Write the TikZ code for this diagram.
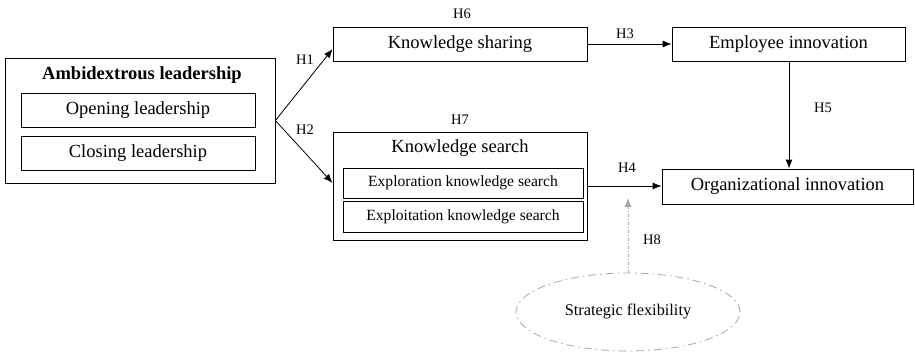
\documentclass[tikz,border=0pt]{standalone}
\usepackage{fontspec}
\setmainfont{Liberation Serif}
\usetikzlibrary{arrows.meta,shapes.geometric,calc}
\begin{document}
\begin{tikzpicture}[x=1pt,y=-1pt,
  box/.style={draw,line width=0.8pt,inner sep=0pt,font=\fontsize{18.5}{20}\selectfont},
  sbox/.style={draw,line width=0.8pt,inner sep=0pt,font=\fontsize{15.6}{17}\selectfont},
  hlab/.style={font=\fontsize{14.5}{16}\selectfont,inner sep=0pt},
  arr/.style={line width=0.8pt,-{Latex[length=9pt,width=7pt]}},
  garr/.style={line width=0.8pt,gray!70,dash pattern=on 3pt off 2pt on 1pt off 2pt,-{Latex[length=9pt,width=7pt]}}
]
\useasboundingbox (0,0) rectangle (915,354);
% Ambidextrous leadership
\node[box,minimum width=270pt,minimum height=125pt] (amb) at (140,120.5) {};
\node[font=\fontsize{18.5}{20}\selectfont\bfseries,inner sep=0pt] (ambt) at (142,75) {Ambidextrous leadership};
\node[box,minimum width=234pt,minimum height=34pt] (open) at (138,110) {Opening leadership};
\node[box,minimum width=234pt,minimum height=34pt] (close) at (138,153) {Closing leadership};
% Knowledge sharing
\node[box,minimum width=254pt,minimum height=34pt] (ks) at (460,44) {Knowledge sharing};
% Employee innovation
\node[box,minimum width=233pt,minimum height=34pt] (ei) at (788.5,44) {Employee innovation};
% Knowledge search
\node[box,minimum width=254pt,minimum height=108pt] (search) at (460,186) {};
\node[font=\fontsize{18.5}{20}\selectfont,inner sep=0pt] (searcht) at (460,148) {Knowledge search};
\node[sbox,minimum width=240pt,minimum height=30pt] (explor) at (463,183) {Exploration knowledge search};
\node[sbox,minimum width=240pt,minimum height=31pt] (exploit) at (463,216.5) {Exploitation knowledge search};
% Organizational innovation
\node[box,minimum width=251pt,minimum height=35pt] (oi) at (787.5,186.5) {Organizational innovation};
% Strategic flexibility
\node[ellipse,draw=gray!70,line width=0.8pt,dash pattern=on 8pt off 4pt on 1.5pt off 4pt,minimum width=224pt,minimum height=78pt,inner sep=0pt,font=\fontsize{16.3}{18}\selectfont] (sf) at (628,312) {Strategic flexibility};
\coordinate (modpt) at (628,198);
% connectors
\draw[arr] (amb.east) -- ([yshift=-5pt]ks.west);
\draw[arr] (amb.east) -- ([yshift=3pt]search.west);
\draw[arr] (ks.east) -- (ks.east -| ei.west);
\draw[arr] (ei.south -| 789,0) -- (789,0 |- oi.north);
\draw[arr] (search.east) -- (search.east -| oi.west);
\draw[garr] (sf.north) -- (modpt);
% labels
\node[hlab] (h1) at (305,60) {H1};
\node[hlab] (h2) at (305,130) {H2};
\node[hlab] (h3) at (625,34) {H3};
\node[hlab] (h4) at (627,168) {H4};
\node[hlab] (h5) at (823,108) {H5};
\node[hlab] (h6) at (462,14) {H6};
\node[hlab] (h7) at (460,120) {H7};
\node[hlab] (h8) at (652,240) {H8};
\end{tikzpicture}
\end{document}
